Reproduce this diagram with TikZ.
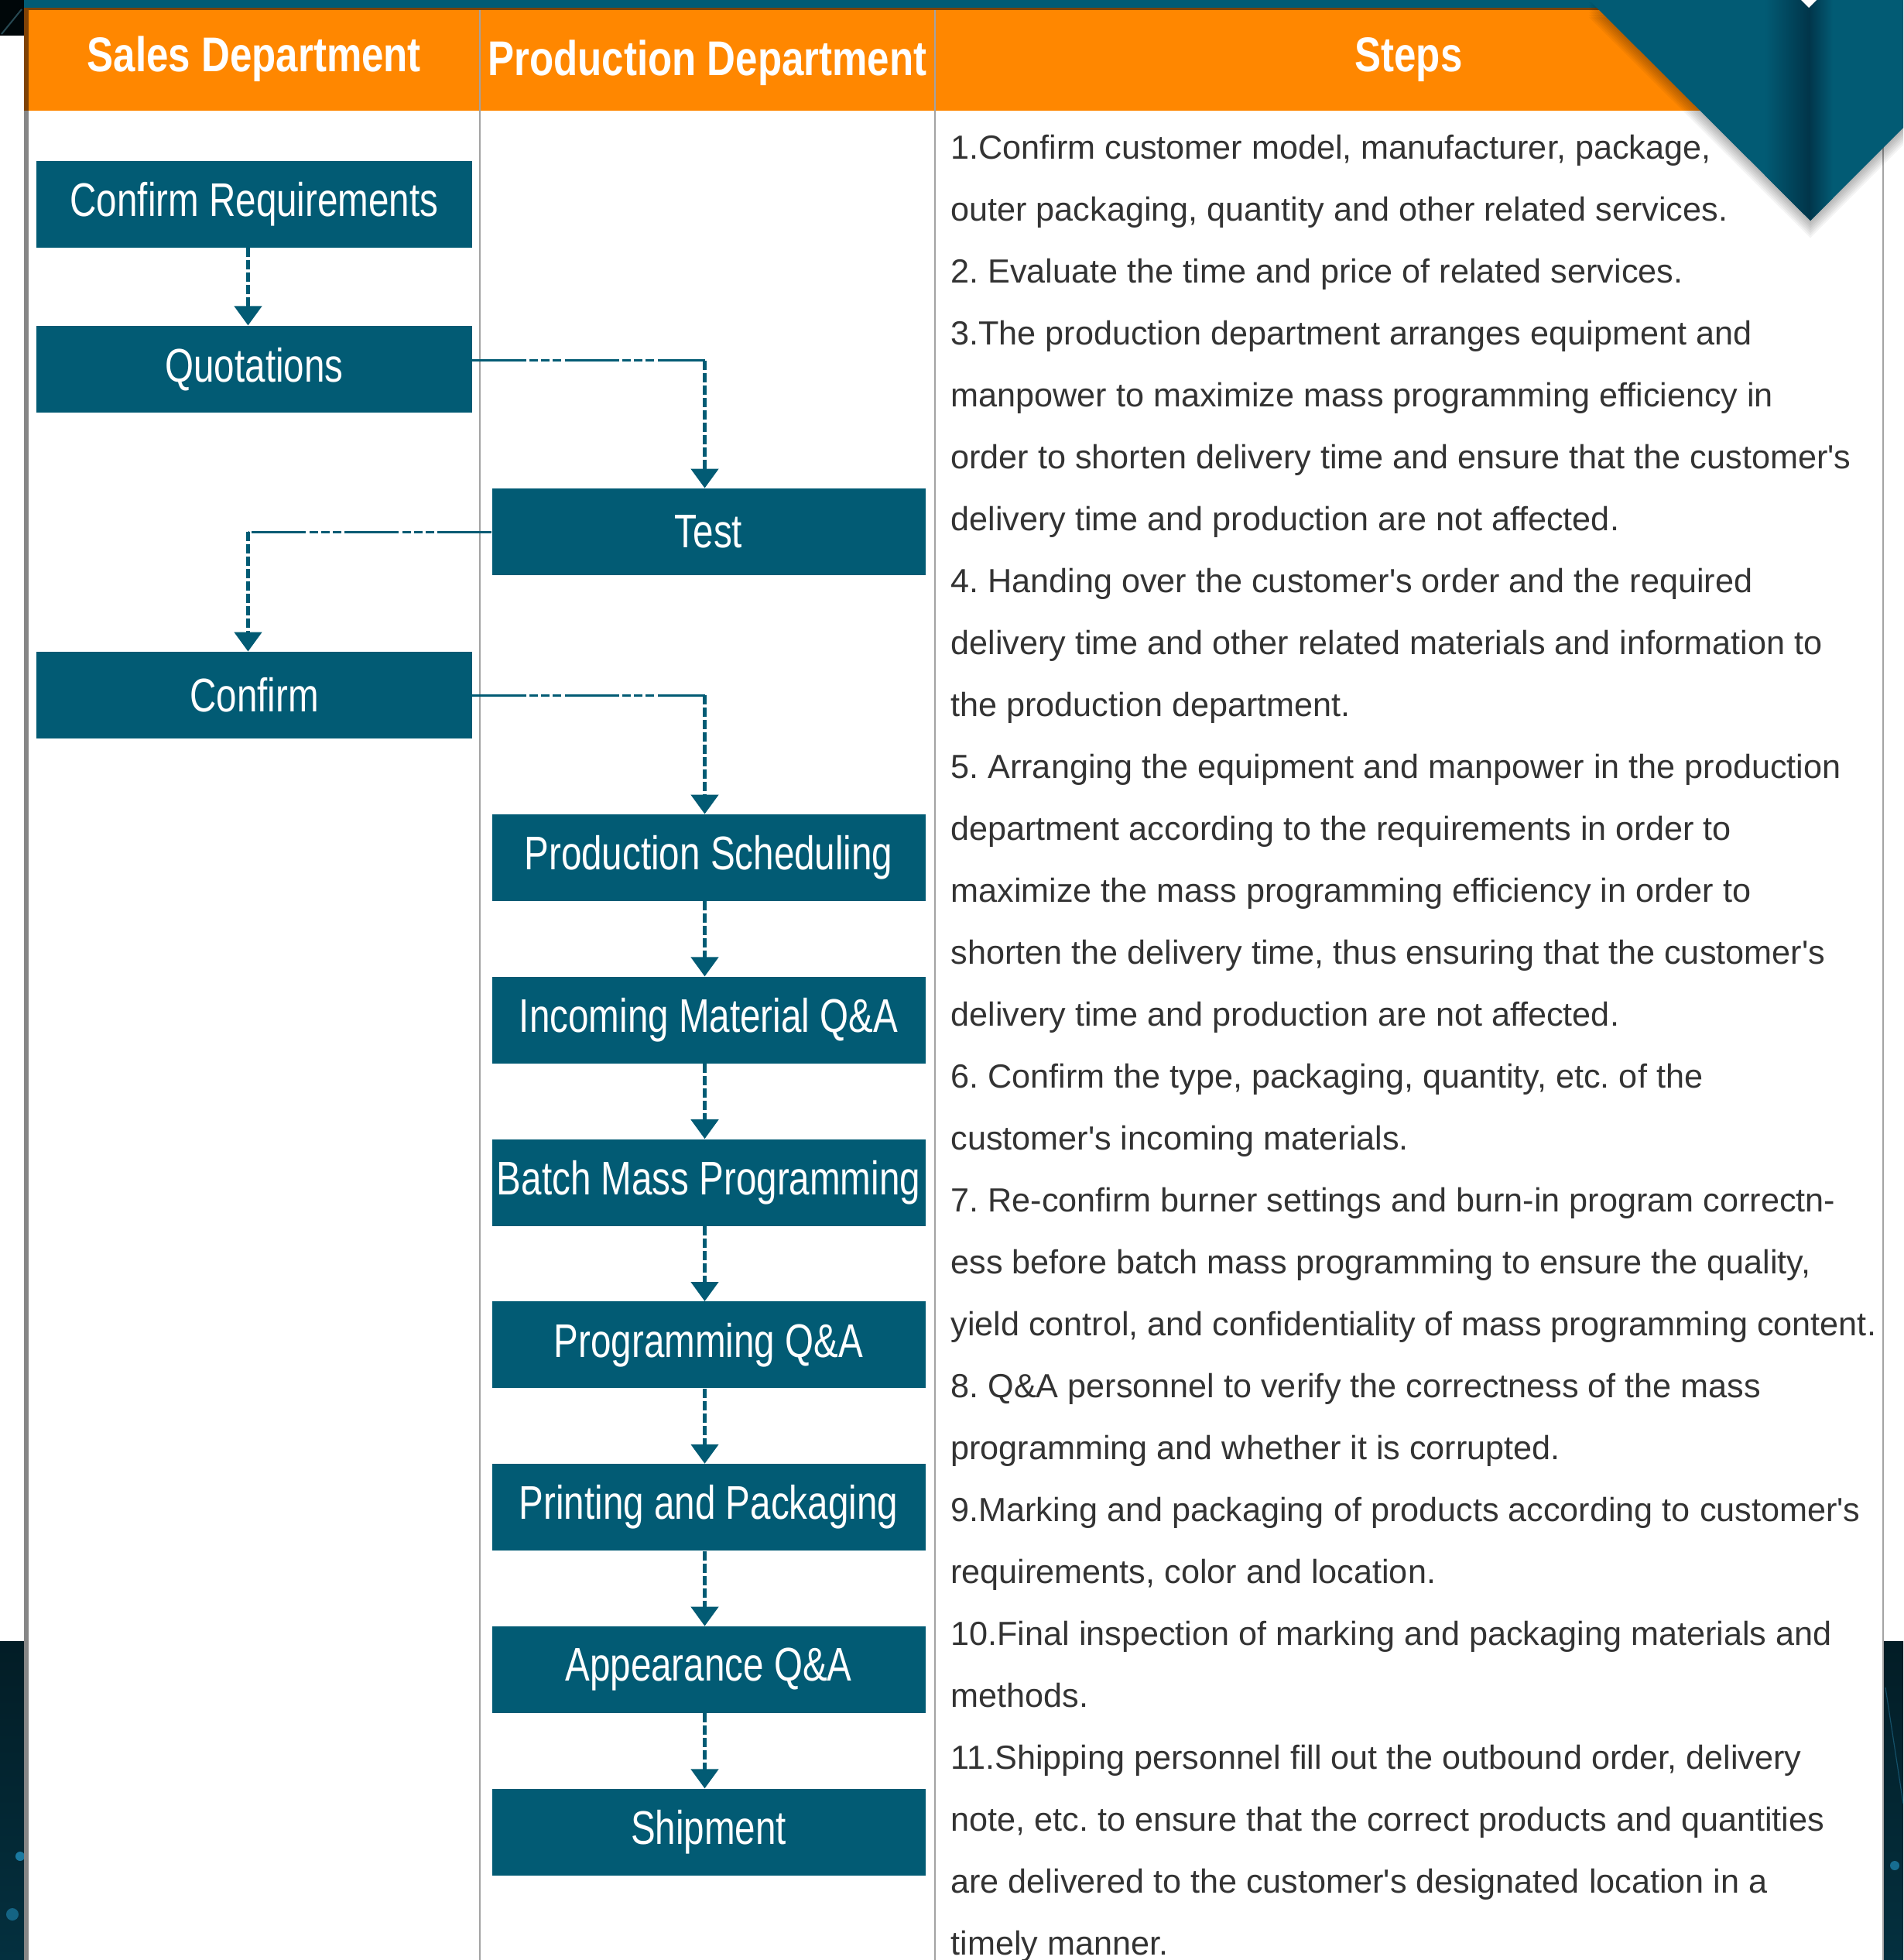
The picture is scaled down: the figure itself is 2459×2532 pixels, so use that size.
\documentclass[tikz,border=0pt]{standalone}
\usepackage{fontspec}
\setmainfont{Liberation Sans}
\newfontfamily\narrowfont[FakeStretch=0.78]{Liberation Sans}
\newfontfamily\headfont[FakeStretch=0.81]{Liberation Sans}
\newfontfamily\bodyfont{Liberation Sans}
\usetikzlibrary{positioning, arrows.meta, calc}
\definecolor{Teal}{HTML}{025B74}
\definecolor{TealDark}{HTML}{01354A}
\definecolor{HeadOrange}{HTML}{FF8700}
\definecolor{Rust}{HTML}{7F4206}
\definecolor{TextGray}{HTML}{333333}
\definecolor{RuleGray}{HTML}{A3A3A3}
\definecolor{NightSky}{HTML}{04303F}
\frenchspacing

\begin{document}
\begin{tikzpicture}[
    x=0.5pt, y=-0.5pt,
    procbox/.style={fill=Teal, text=white, minimum width=280pt, minimum height=56pt, inner sep=0pt, font=\narrowfont\fontsize{30.5}{36}\selectfont},
    headtext/.style={text=white, inner sep=0pt, anchor=base, font=\headfont\bfseries\fontsize{31.5}{36}\selectfont},
    steptext/.style={text=TextGray, inner sep=0pt, anchor=base west, font=\bodyfont\fontsize{21.6}{26}\selectfont},
    vlink/.style={Teal, line width=2.4pt, dash pattern=on 6pt off 2pt, -{Triangle[width=17.5pt, length=12.5pt]}},
    hlink/.style={Teal, line width=1.5pt, dash pattern=on 35pt off 2pt on 5.5pt off 2pt on 5.5pt off 2pt on 5.5pt off 2.5pt},
    node distance=48.5pt
]
\useasboundingbox (0,0) rectangle (2459,2532);
\clip (0,0) rectangle (2459,2532);

% Page and frame
\fill[white] (0,0) rectangle (2459,2532);
\fill[black!92!Teal] (0,0) rectangle (31,46);
\draw[Teal!70, opacity=.5, line width=1pt] (2,44) -- (28,12);
\shade[top color=NightSky!60!black, bottom color=NightSky] (0,2120) rectangle (31,2532);
\shade[top color=NightSky!60!black, bottom color=NightSky] (2434,2120) rectangle (2459,2532);
\fill[cyan!70!Teal, opacity=.7] (26,2398) circle (3pt);
\fill[cyan!70!Teal, opacity=.5] (16,2473) circle (4pt);
\fill[cyan!70!Teal, opacity=.6] (2448,2410) circle (3pt);
\draw[cyan!60!Teal, opacity=.4, line width=.6pt] (2436,2180) -- (2459,2330);
\fill[Teal] (31,0) rectangle (2459,10);
\fill[Rust] (31,10) rectangle (2459,13);
\fill[Rust] (31,13) rectangle (37,143);
\fill[HeadOrange] (37,13) rectangle (2459,143);
\fill[gray!95] (31,143) rectangle (37,2532);
\draw[RuleGray, line width=.75pt] (620,13) -- (620,2532);
\draw[RuleGray, line width=.75pt] (1208,13) -- (1208,2532);
\draw[RuleGray, line width=.75pt] (2433,143) -- (2433,2532);

% Headers
\node[headtext] (hsales) at (328.5,92) {Sales Department};
\node[headtext] (hprod) at (914,97) {Production Department};
\node[headtext] (hsteps) at (1820,92) {Steps};

% Sales department
\node[procbox, minimum width=281.5pt] (creq) at (328.5,264) {Confirm Requirements};
\node[procbox, minimum width=281.5pt, below=50pt of creq] (quot) {Quotations};
\node[procbox, minimum width=281.5pt] (conf) at (328.5,898) {Confirm};

% Production department
\node[procbox] (test) at (915.5,687) {Test};
\node[procbox] (sched) at (915.5,1108) {Production Scheduling};
\node[procbox, below=of sched] (inc) {Incoming Material Q\&A};
\node[procbox, below=of inc] (batch) {Batch Mass Programming};
\node[procbox, below=of batch] (prog) {Programming Q\&A};
\node[procbox, below=of prog] (print) {Printing and Packaging};
\node[procbox, below=of print] (appear) {Appearance Q\&A};
\node[procbox, below=of appear] (ship) {Shipment};

% Links
\coordinate (quotout) at ([yshift=5.5pt]quot.east);
\coordinate (testin) at ([xshift=-2.5pt]test.north);
\coordinate (confin) at ([xshift=-4pt]conf.north);
\coordinate (schedin) at ([xshift=-2.5pt]sched.north);
\draw[vlink] ([xshift=-4pt]creq.south) -- ([xshift=-4pt]quot.north);
\draw[hlink] (quotout) -- (quotout -| testin);
\draw[vlink] (quotout -| testin) -- (testin);
\draw[hlink] (test.west) -- (test.west -| confin);
\draw[vlink] (test.west -| confin) -- (confin);
\draw[hlink] (conf.east) -- (conf.east -| schedin);
\draw[vlink] (conf.east -| schedin) -- (schedin);
\foreach \a/\b in {sched/inc, inc/batch, batch/prog, prog/print, print/appear, appear/ship}
  \draw[vlink] ([xshift=-2.5pt]\a.south) -- ([xshift=-2.5pt]\b.north);

% Steps
\foreach \txt [count=\i] in {
  {1.Confirm customer model, manufacturer, package,},
  {outer packaging, quantity and other related services.},
  {2. Evaluate the time and price of related services.},
  {3.The production department arranges equipment and},
  {manpower to maximize mass programming efficiency in},
  {order to shorten delivery time and ensure that the customer's},
  {delivery time and production are not affected.},
  {4. Handing over the customer's order and the required},
  {delivery time and other related materials and information to},
  {the production department.},
  {5. Arranging the equipment and manpower in the production},
  {department according to the requirements in order to},
  {maximize the mass programming efficiency in order to},
  {shorten the delivery time, thus ensuring that the customer's},
  {delivery time and production are not affected.},
  {6. Confirm the type, packaging, quantity, etc. of the},
  {customer's incoming materials.},
  {7. Re-confirm burner settings and burn-in program correctn-},
  {ess before batch mass programming to ensure the quality,},
  {yield control, and confidentiality of mass programming content.},
  {8. Q\&A personnel to verify the correctness of the mass},
  {programming and whether it is corrupted.},
  {9.Marking and packaging of products according to customer's},
  {requirements, color and location.},
  {10.Final inspection of marking and packaging materials and},
  {methods.},
  {11.Shipping personnel fill out the outbound order, delivery},
  {note, etc. to ensure that the correct products and quantities},
  {are delivered to the customer's designated location in a},
  {timely manner.}}
  \node[steptext] (line\i) at (1228,{125+80*\i}) {\txt};

% Corner ribbon
\foreach \k in {1,...,7}
  \fill[black, opacity=.045, yshift=-\k*1.6pt] (2053,0) -- (2459,0) -- (2459,165) -- (2339,285) -- cycle;
\fill[Teal] (2053,0) -- (2459,0) -- (2459,165) -- (2339,285) -- cycle;
\begin{scope}
  \clip (2053,0) -- (2459,0) -- (2459,165) -- (2339,285) -- cycle;
  \shade[left color=Teal, right color=TealDark] (2280,0) rectangle (2337,290);
  \shade[left color=TealDark, right color=Teal] (2337,0) rectangle (2368,290);
\end{scope}
\fill[white] (2327,0) -- (2347,0) -- (2337,10) -- cycle;

\end{tikzpicture}
\end{document}
